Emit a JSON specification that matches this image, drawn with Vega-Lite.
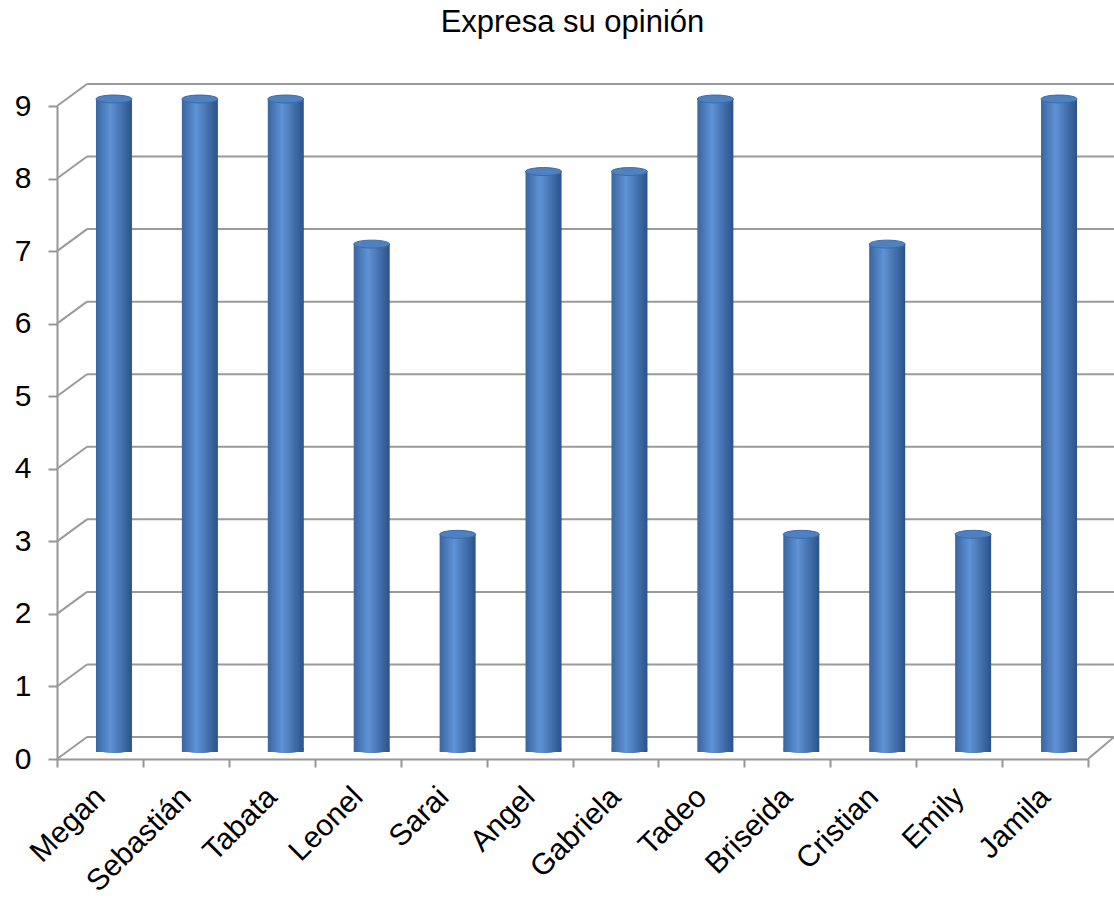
{
  "$schema": "https://vega.github.io/schema/vega-lite/v6.json",
  "width": 1031,
  "height": 653,
  "autosize": "none",
  "padding": {"left": 57, "top": 106, "right": 26, "bottom": 140},
  "background": "white",
  "title": {
    "text": "Expresa su opinión",
    "font": "Liberation Sans",
    "fontSize": 31,
    "fontWeight": "normal",
    "color": "#000000",
    "offset": 44
  },
  "config": {
    "view": {"stroke": null},
    "axis": {
      "labelFont": "Liberation Sans",
      "labelFontSize": 30,
      "labelColor": "#000000",
      "domainColor": "#969696",
      "tickColor": "#969696",
      "domainWidth": 2,
      "tickWidth": 2,
      "title": null,
      "grid": false
    }
  },
  "datasets": {
    "scores": [
      {"nombre": "Megan", "valor": 9},
      {"nombre": "Sebastián", "valor": 9},
      {"nombre": "Tabata", "valor": 9},
      {"nombre": "Leonel", "valor": 7},
      {"nombre": "Sarai", "valor": 3},
      {"nombre": "Angel", "valor": 8},
      {"nombre": "Gabriela", "valor": 8},
      {"nombre": "Tadeo", "valor": 9},
      {"nombre": "Briseida", "valor": 3},
      {"nombre": "Cristian", "valor": 7},
      {"nombre": "Emily", "valor": 3},
      {"nombre": "Jamila", "valor": 9}
    ],
    "levels": [
      {"valor": 0}, {"valor": 1}, {"valor": 2}, {"valor": 3}, {"valor": 4},
      {"valor": 5}, {"valor": 6}, {"valor": 7}, {"valor": 8}, {"valor": 9}
    ]
  },
  "layer": [
    {
      "data": {"name": "levels"},
      "mark": {"type": "rule", "color": "#9a9a9a", "strokeWidth": 2, "x2Offset": 26, "yOffset": -22},
      "encoding": {
        "x": {"value": 30},
        "x2": {"value": "width"},
        "y": {
          "field": "valor", "type": "quantitative",
          "scale": {"domain": [0, 9], "nice": false},
          "axis": {"values": [0, 1, 2, 3, 4, 5, 6, 7, 8, 9], "tickSize": 9, "labelPadding": 17}
        }
      }
    },
    {
      "data": {"name": "levels"},
      "mark": {"type": "rule", "color": "#9a9a9a", "strokeWidth": 2, "y2Offset": -22},
      "encoding": {
        "x": {"value": 0},
        "x2": {"value": 30},
        "y": {
          "field": "valor", "type": "quantitative",
          "axis": {"values": [0, 1, 2, 3, 4, 5, 6, 7, 8, 9], "tickSize": 9, "labelPadding": 17}
        },
        "y2": {"field": "valor"}
      }
    },
    {
      "data": {"name": "levels"},
      "transform": [{"filter": "datum.valor == 0"}],
      "mark": {"type": "rule", "color": "#9a9a9a", "strokeWidth": 2, "x2Offset": 26, "y2Offset": -22},
      "encoding": {
        "x": {"value": "width"},
        "x2": {"value": "width"},
        "y": {
          "field": "valor", "type": "quantitative",
          "axis": {"values": [0, 1, 2, 3, 4, 5, 6, 7, 8, 9], "tickSize": 9, "labelPadding": 17}
        },
        "y2": {"field": "valor"}
      }
    },
    {
      "data": {"name": "scores"},
      "mark": {
        "type": "point",
        "shape": "M-1,0A1,0.22,0,1,1,1,0A1,0.22,0,1,1,-1,0Z",
        "size": 1296,
        "filled": true,
        "opacity": 1,
        "xOffset": 14,
        "yOffset": -10,
        "color": {
          "gradient": "linear", "x1": 0, "x2": 1, "y1": 0, "y2": 0,
          "stops": [
            {"offset": 0, "color": "#3a659f"},
            {"offset": 0.4, "color": "#5e93d6"},
            {"offset": 1, "color": "#2b5289"}
          ]
        }
      },
      "encoding": {
        "x": {
          "field": "nombre", "type": "nominal", "sort": null,
          "scale": {"paddingInner": 0, "paddingOuter": 0},
          "axis": {"labelAngle": -45, "labelAlign": "right", "labelBaseline": "middle", "labelPadding": 25, "tickSize": 8, "tickBand": "extent"}
        },
        "y": {
          "datum": 0, "type": "quantitative",
          "axis": {"values": [0, 1, 2, 3, 4, 5, 6, 7, 8, 9], "tickSize": 9, "labelPadding": 17}
        }
      }
    },
    {
      "data": {"name": "scores"},
      "mark": {
        "type": "bar",
        "width": 36,
        "xOffset": 14,
        "yOffset": -7,
        "y2Offset": -10,
        "color": {
          "gradient": "linear", "x1": 0, "x2": 1, "y1": 0, "y2": 0,
          "stops": [
            {"offset": 0, "color": "#3a659f"},
            {"offset": 0.4, "color": "#5e93d6"},
            {"offset": 1, "color": "#2b5289"}
          ]
        }
      },
      "encoding": {
        "x": {
          "field": "nombre", "type": "nominal", "sort": null,
          "axis": {"labelAngle": -45, "labelAlign": "right", "labelBaseline": "middle", "labelPadding": 25, "tickSize": 8, "tickBand": "extent"}
        },
        "y": {
          "field": "valor", "type": "quantitative",
          "axis": {"values": [0, 1, 2, 3, 4, 5, 6, 7, 8, 9], "tickSize": 9, "labelPadding": 17}
        }
      }
    },
    {
      "data": {"name": "scores"},
      "mark": {
        "type": "point",
        "shape": "M-1,0A1,0.22,0,1,1,1,0A1,0.22,0,1,1,-1,0Z",
        "size": 1296,
        "filled": true,
        "opacity": 1,
        "xOffset": 14,
        "yOffset": -7,
        "color": "#4f80c0",
        "stroke": "#3c6aa6",
        "strokeWidth": 1
      },
      "encoding": {
        "x": {
          "field": "nombre", "type": "nominal", "sort": null,
          "axis": {"labelAngle": -45, "labelAlign": "right", "labelBaseline": "middle", "labelPadding": 25, "tickSize": 8, "tickBand": "extent"}
        },
        "y": {
          "field": "valor", "type": "quantitative",
          "axis": {"values": [0, 1, 2, 3, 4, 5, 6, 7, 8, 9], "tickSize": 9, "labelPadding": 17}
        }
      }
    }
  ]
}
